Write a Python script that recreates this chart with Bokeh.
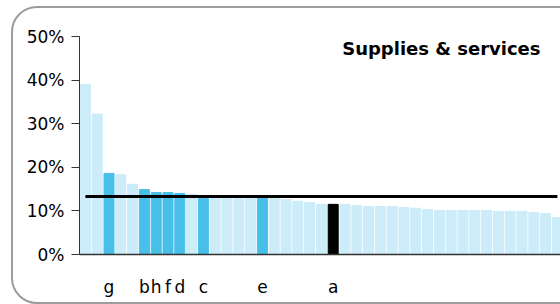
from bokeh.plotting import figure
from bokeh.models import (Range1d, FixedTicker, NumeralTickFormatter, Label,
                          ColumnDataSource, InlineStyleSheet)
from bokeh.embed import file_html
from bokeh.resources import INLINE

# ---- data -------------------------------------------------------------
labels = ["", "", "g", "", "", "b", "h", "f", "d", "", "c", "", "", "", "", "e",
          "", "", "", "", "", "a", "", "", "", "", "", "", "", "", "", "", "",
          "", "", "", "", "", "", "", ""]
values = [0.390, 0.322, 0.186, 0.183, 0.161, 0.149, 0.142, 0.142, 0.140, 0.138,
          0.135, 0.134, 0.133, 0.133, 0.133, 0.133, 0.129, 0.126, 0.122, 0.119,
          0.115, 0.115, 0.115, 0.112, 0.110, 0.110, 0.110, 0.108, 0.106, 0.103,
          0.101, 0.101, 0.101, 0.101, 0.101, 0.099, 0.099, 0.099, 0.096, 0.094,
          0.085]
groups = ["o", "o", "h", "o", "o", "h", "h", "h", "h", "o", "h", "o", "o", "o",
          "o", "h", "o", "o", "o", "o", "o", "s", "o", "o", "o", "o", "o", "o",
          "o", "o", "o", "o", "o", "o", "o", "o", "o", "o", "o", "o", "o"]
average = 0.133
title_text = "Supplies & services"
y_ticks = [0.0, 0.1, 0.2, 0.3, 0.4, 0.5]

palette = {"o": "#cbecf8", "h": "#48bfe9", "s": "#000000"}

n = len(values)
xs = [i + 0.5 for i in range(n)]
colors = [palette[g] for g in groups]

W, H = 560, 304
LEFT, TOP, BOTTOM = 79, 36, 50
unit_px = 11.8
frame_w = W - LEFT

p = figure(width=W, height=H, output_backend="svg", toolbar_location=None,
           x_range=Range1d(0, frame_w / unit_px), y_range=Range1d(0, 0.5),
           min_border_left=LEFT, min_border_right=0, min_border_top=TOP,
           min_border_bottom=BOTTOM, background_fill_color="white",
           border_fill_color="white")
p.outline_line_color = None
p.grid.visible = False

src = ColumnDataSource(dict(x=xs, top=values, color=colors))
p.vbar(x="x", top="top", width=10 / unit_px, color="color", source=src)

p.line(x=[xs[0], xs[-1]], y=[average, average], line_width=3,
       line_color="black")

# y axis
ya = p.yaxis[0]
ya.ticker = FixedTicker(ticks=y_ticks)
ya.formatter = NumeralTickFormatter(format="0%")
ya.major_tick_out = 8
ya.major_tick_in = 0
ya.minor_tick_line_color = None
ya.axis_line_color = "#333333"
ya.major_tick_line_color = "#333333"
ya.major_label_standoff = 7
ya.major_label_text_font = "DejaVu Sans"
ya.major_label_text_font_size = "17px"
ya.major_label_text_color = "black"

# x axis
tick_pos = [xs[i] for i, l in enumerate(labels) if l]
xa = p.xaxis[0]
xa.ticker = FixedTicker(ticks=tick_pos)
xa.major_label_overrides = {xs[i]: l for i, l in enumerate(labels) if l}
xa.major_tick_out = 0
xa.major_tick_in = 0
xa.minor_tick_line_color = None
xa.axis_line_color = "#333333"
xa.axis_line_width = 1.5
xa.major_label_standoff = 22
xa.major_label_text_font = "DejaVu Sans"
xa.major_label_text_font_size = "17px"
xa.major_label_text_color = "black"

# title inside the plot
p.add_layout(Label(x=39.07, y=0.4736, text=title_text, text_align="right",
                   text_baseline="alphabetic", text_font="DejaVu Sans",
                   text_font_style="bold", text_font_size="18px",
                   text_color="black"))

# rounded frame around the chart (partly cut off at right/bottom)
p.stylesheets = [InlineStyleSheet(css="""
:host { overflow: hidden; }
:host::after {
  content: ""; position: absolute; box-sizing: border-box;
  left: 11px; top: 6px; width: 580px; height: 298px;
  border: 2px solid #9c9c9c; border-radius: 26px; pointer-events: none;
}
""")]

open("out.html", "w").write(file_html(p, INLINE))
